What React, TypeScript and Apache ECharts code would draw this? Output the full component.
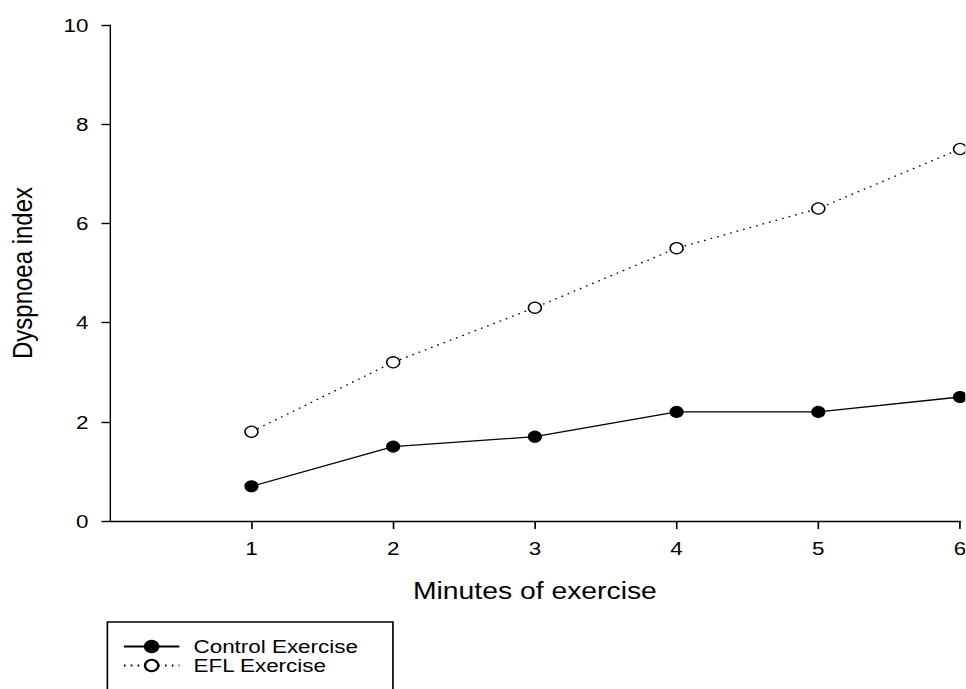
import React, { useEffect, useRef } from "react";
import * as echarts from "echarts";

const minutes = [1, 2, 3, 4, 5, 6];
const controlExercise = [0.7, 1.5, 1.7, 2.2, 2.2, 2.5];
const eflExercise = [1.8, 3.2, 4.3, 5.5, 6.3, 7.5];
const xTicks = [1, 2, 3, 4, 5, 6];
const seriesNames = ["Control Exercise", "EFL Exercise"];

const FONT = "'Liberation Sans', Arial, Helvetica, sans-serif";
const STRETCH = 1.18;
const W = 818;
const H = 689;

export default function App() {
  const ref = useRef<HTMLDivElement>(null);
  useEffect(() => {
    if (!ref.current) return;
    const chart = echarts.init(ref.current, null, { renderer: "svg" });
    const pair = (ys: number[]) => minutes.map((m, i) => [m, ys[i]]);
    chart.setOption({
      animation: false,
      backgroundColor: "#ffffff",
      textStyle: { fontFamily: FONT, color: "#000" },
      grid: { left: 93, right: 4.4, top: 25, bottom: 168, containLabel: false, outerBoundsMode: "none" },
      xAxis: {
        type: "value",
        min: 0,
        max: 6,
        interval: 1,
        name: "Minutes of exercise",
        nameLocation: "middle",
        nameGap: 58,
        nameTextStyle: { fontSize: 24, color: "#000", fontFamily: FONT },
        axisLine: { show: true, onZero: false, lineStyle: { color: "#000", width: 1.4 } },
        axisTick: { show: true, inside: false, length: 8, customValues: xTicks, lineStyle: { color: "#000", width: 1.4 } },
        axisLabel: {
          customValues: xTicks,
          formatter: (v: number) => (v === 0 ? "" : String(v)),
          fontSize: 19,
          color: "#000",
          margin: 18,
          fontFamily: FONT,
        },
        splitLine: { show: false },
      },
      yAxis: {
        type: "value",
        min: 0,
        max: 10,
        interval: 2,
        name: "Dyspnoea index",
        nameLocation: "middle",
        nameGap: 62,
        nameRotate: 90,
        nameTextStyle: { fontSize: 24, color: "#000", fontFamily: FONT },
        axisLine: { show: true, lineStyle: { color: "#000", width: 1.2 } },
        axisTick: { show: true, inside: false, length: 7, lineStyle: { color: "#000", width: 1.4 } },
        axisLabel: { fontSize: 19, color: "#000", margin: 18, fontFamily: FONT },
        splitLine: { show: false },
      },
      legend: {
        orient: "vertical",
        left: 104,
        top: 637,
        padding: 0,
        itemGap: 0,
        itemWidth: 47,
        itemHeight: 14,
        data: seriesNames,
        textStyle: { fontSize: 19, lineHeight: 18, color: "#000", fontFamily: FONT, padding: [0, 0, 0, 7] },
      },
      graphic: [
        {
          type: "rect",
          shape: { x: 91, y: 622, width: 242, height: 120 },
          style: { fill: "none", stroke: "#000", lineWidth: 1.4 },
          silent: true,
        },
      ],
      series: [
        {
          name: seriesNames[0],
          type: "line",
          data: pair(controlExercise),
          symbol: "circle",
          symbolSize: 11,
          clip: false,
          itemStyle: { color: "#000", borderColor: "#000", borderWidth: 1 },
          lineStyle: { color: "#000", width: 1.3 },
        },
        {
          name: seriesNames[1],
          type: "line",
          data: pair(eflExercise),
          symbol: "circle",
          symbolSize: 11,
          clip: false,
          itemStyle: { color: "#fff", borderColor: "#000", borderWidth: 1.3 },
          lineStyle: { color: "#000", width: 1.3, type: [1.4, 4.4] },
        },
      ],
    });
    return () => chart.dispose();
  }, []);
  return (
    <div
      ref={ref}
      style={{
        position: "absolute",
        left: 0,
        top: 0,
        width: W,
        height: H,
        transform: `scaleX(${STRETCH})`,
        transformOrigin: "0 0",
      }}
    />
  );
}
